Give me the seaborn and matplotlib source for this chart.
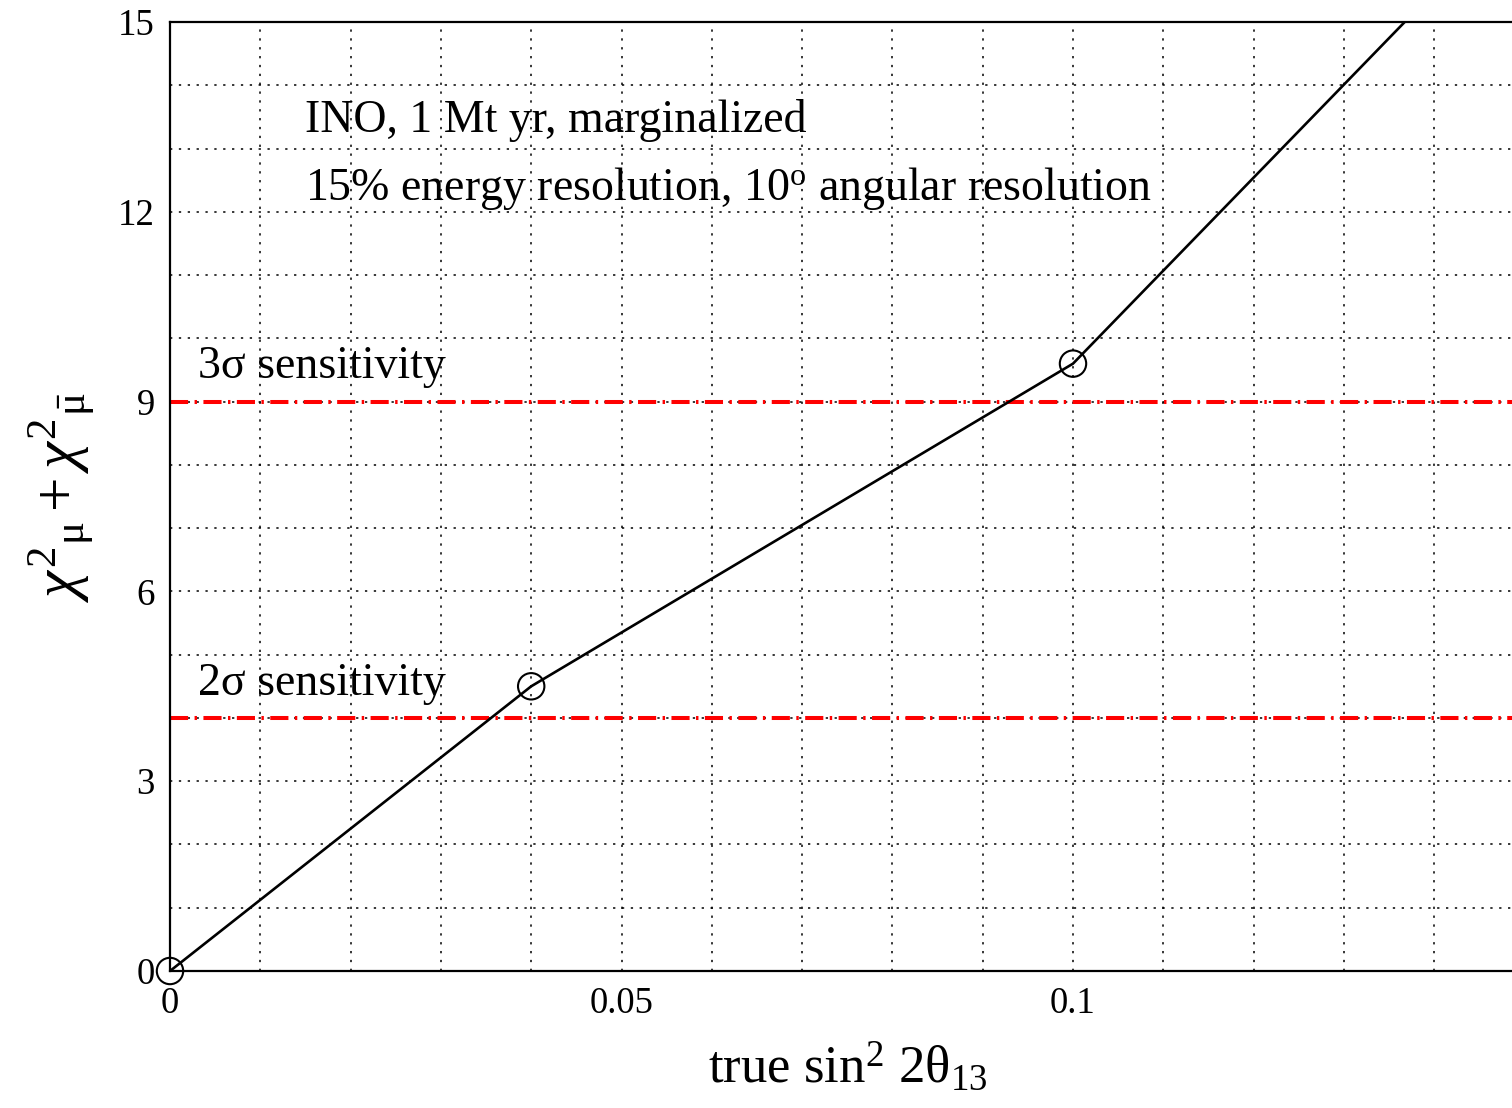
import matplotlib
matplotlib.use("Agg")
import matplotlib.pyplot as plt
import seaborn as sns
import numpy as np
import pandas as pd

# data
sin2_2theta13 = [0.0, 0.04, 0.10, 0.15]
chi2_total = [0.0, 4.5, 9.6, 16.95]
sens_levels = [4.0, 9.0]
sens_labels = ["2σ sensitivity", "3σ sensitivity"]
xticks = [0.0, 0.05, 0.1]
xticklabels = ["0", "0.05", "0.1"]
yticks = [0, 3, 6, 9, 12, 15]

sns.set_style("white")
plt.rcParams["font.family"] = ["Liberation Serif", "DejaVu Serif"]
plt.rcParams["mathtext.fontset"] = "custom"
plt.rcParams["mathtext.rm"] = "Liberation Serif"
plt.rcParams["mathtext.it"] = "Liberation Serif:italic"
plt.rcParams["mathtext.bf"] = "Liberation Serif:bold"
for k in ["text.color", "axes.labelcolor", "xtick.color", "ytick.color"]:
    plt.rcParams[k] = "black"

df = pd.DataFrame({"x": sin2_2theta13, "y": chi2_total})

fig = plt.figure(figsize=(15.12, 11.08), dpi=100)
W, H = 1512, 1108
x0px, x1px = 170, 170 + 0.15 * 9030
ax = fig.add_axes([x0px / W, 1 - 971 / H, (x1px - x0px) / W, (971 - 22) / H])

ax.set_xlim(0, 0.15)
ax.set_ylim(0, 15)

# grid
ax.set_xticks(np.round(np.arange(0, 0.1501, 0.01), 3), minor=True)
ax.set_yticks(np.arange(0, 15.01, 1), minor=True)
ax.set_xticks(xticks)
ax.set_xticklabels(xticklabels)
ax.set_yticks(yticks)
ax.grid(True, which="both", color="black", linestyle=(0, (1.5, 4.3)), linewidth=1.1)
ax.set_axisbelow(True)

# sensitivity lines
for lvl in sens_levels:
    ax.axhline(lvl, color="red", linewidth=2.9, linestyle=(0, (4.5, 1.6, 0.6, 1.6)), zorder=2)

sns.lineplot(data=df, x="x", y="y", ax=ax, color="black", linewidth=1.9, zorder=3)
sns.scatterplot(data=df, x="x", y="y", ax=ax, s=19 ** 2, facecolor="none",
                edgecolor="black", linewidth=1.5, marker="o", zorder=4, clip_on=False)

# texts
ax.text(0.0149, 13.26, "INO, 1 Mt yr, marginalized", fontsize=33, va="baseline", ha="left")
ax.text(0.0149, 12.19, "15% energy resolution, 10$^{\\mathrm{o}}$ angular resolution",
        fontsize=33, va="baseline", ha="left")
ax.text(0.0031, 9.37, sens_labels[1], fontsize=33, va="baseline", ha="left")
ax.text(0.0031, 4.36, sens_labels[0], fontsize=33, va="baseline", ha="left")

ax.set_xlabel("true sin$^{2}$ 2θ$_{13}$", fontsize=38, labelpad=14)
ax.set_ylabel(r"$χ^{2}{}_{\mathrm{μ}}+χ^{2}{}_{\bar{\mathrm{μ}}}$",
              fontsize=44, va="center")
ax.yaxis.set_label_coords((62 - x0px) / (x1px - x0px), (971 - 497) / 949)

ax.tick_params(axis="both", which="major", labelsize=26.5, direction="in", length=8,
               width=1.5, color="black", pad=6)
ax.tick_params(axis="both", which="minor", length=0)
ax.tick_params(axis="y", pad=11)
ax.tick_params(axis="x", pad=11)

for side in ["left", "bottom", "top", "right"]:
    ax.spines[side].set_color("black")
    ax.spines[side].set_linewidth(1.6)

fig.savefig("out.png", dpi=100)
